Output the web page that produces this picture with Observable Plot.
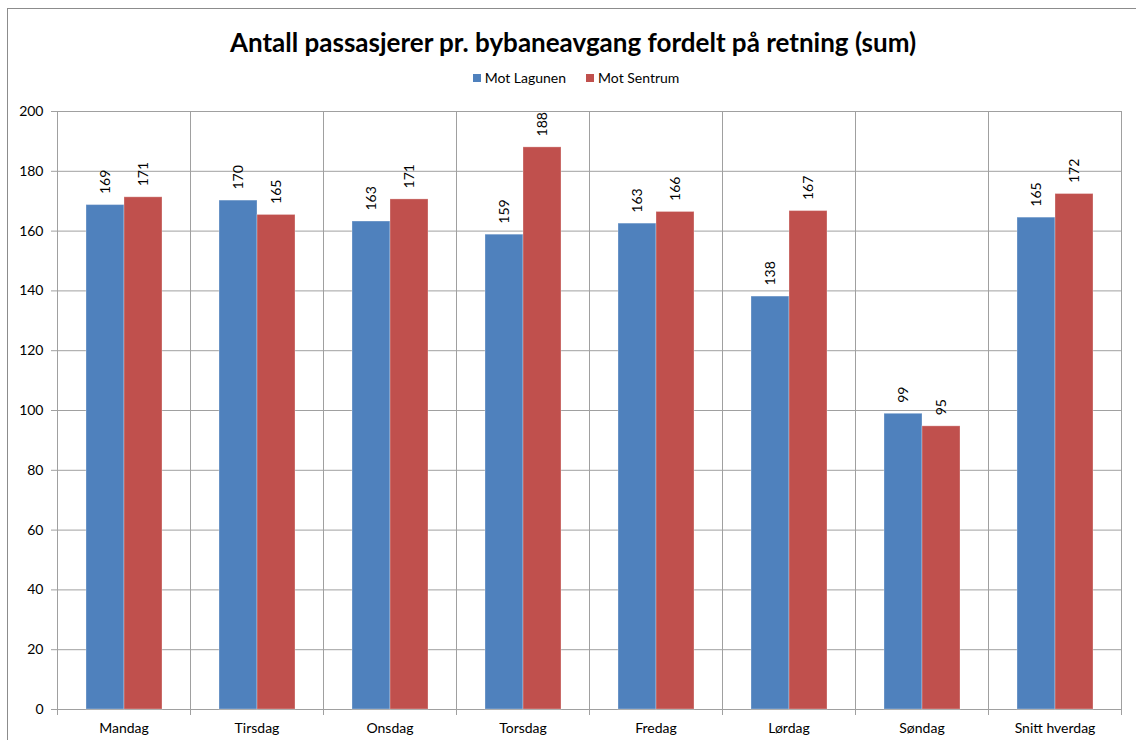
<!DOCTYPE html>
<html>
<head>
<meta charset="utf-8">
<script src="https://cdn.jsdelivr.net/npm/d3@7"></script>
<script src="https://cdn.jsdelivr.net/npm/@observablehq/plot@0.6"></script>
<style>
  html, body { margin: 0; padding: 0; background: #fff; }
  #wrap { position: relative; width: 1136px; height: 740px; overflow: hidden; font-family: Lato, "Open Sans", sans-serif; }
  #border { position: absolute; left: 7px; top: 8px; width: 1160px; height: 760px; border: 1px solid #8c8c8c; box-sizing: border-box; }
  #title { position: absolute; left: 0; top: 25px; width: 1146px; text-align: center; font-weight: bold; font-size: 26px; line-height: 34px; color: #000; }
  #legend { position: absolute; left: 0; top: 69px; width: 1136px; display: flex; justify-content: center; gap: 20px; font-size: 14px; line-height: 18px; color: #000; padding-left: 16px; box-sizing: border-box; }
  #legend span.item { display: flex; align-items: center; }
  #legend span.sw { display: inline-block; width: 8px; height: 8px; margin-right: 4px; }
  #chart { position: absolute; left: 0; top: 95px; }
</style>
</head>
<body>
<div id="wrap">
  <div id="border"></div>
  <div id="title">Antall passasjerer pr. bybaneavgang fordelt på retning (sum)</div>
  <div id="legend"></div>
  <div id="chart"></div>
</div>
<script>
const days = ["Mandag", "Tirsdag", "Onsdag", "Torsdag", "Fredag", "Lørdag", "Søndag", "Snitt hverdag"];
const series = ["Mot Lagunen", "Mot Sentrum"];
const lagunen = [168.7, 170.2, 163.2, 158.8, 162.5, 138.1, 98.9, 164.5];
const sentrum = [171.3, 165.4, 170.6, 188.0, 166.4, 166.7, 94.7, 172.4];
const yTicks = [0, 20, 40, 60, 80, 100, 120, 140, 160, 180, 200];
const colors = ["#4F81BD", "#C0504D"];

const data = [];
days.forEach((d, i) => {
  data.push({day: d, series: series[0], value: lagunen[i]});
  data.push({day: d, series: series[1], value: sentrum[i]});
});

const legend = document.getElementById("legend");
series.forEach((s, i) => {
  const item = document.createElement("span");
  item.className = "item";
  const sw = document.createElement("span");
  sw.className = "sw";
  sw.style.background = colors[i];
  item.appendChild(sw);
  item.appendChild(document.createTextNode(s));
  legend.appendChild(item);
});

const grid = "#a0a0a0";
const chart = Plot.plot({
  width: 1136,
  height: 645,
  marginLeft: 55,
  marginRight: 13,
  marginTop: 16,
  marginBottom: 31,
  style: {fontFamily: "Lato, 'Open Sans', sans-serif", fontSize: "14px", color: "#000", background: "transparent"},
  fx: {domain: days, padding: 0, label: null},
  x: {domain: series, paddingInner: 0, paddingOuter: 0.72, axis: null},
  y: {domain: [0, 200], label: null},
  color: {domain: series, range: colors},
  marks: [
    Plot.ruleY(yTicks, {stroke: grid}),
    Plot.frame({anchor: "left", stroke: grid, insetBottom: -5}),
    Plot.frame({anchor: "right", stroke: grid, insetBottom: -5}),
    Plot.barY(data, {fx: "day", x: "series", y: "value", fill: "series", stroke: "#fff", strokeOpacity: 0.3, strokeWidth: 1}),
    Plot.text(data, {fx: "day", x: "series", y: "value", text: d => String(Math.round(d.value)), rotate: -90, textAnchor: "start", lineAnchor: "middle", dy: -11, fill: "#000", fontSize: 14}),
    Plot.axisY({ticks: yTicks, tickSize: 6, tickPadding: 8, stroke: grid, fill: "#000", label: null}),
    Plot.axisFx({anchor: "bottom", tickSize: 0, tickPadding: 14, label: null, fill: "#000"})
  ]
});
document.getElementById("chart").appendChild(chart);
</script>
</body>
</html>
